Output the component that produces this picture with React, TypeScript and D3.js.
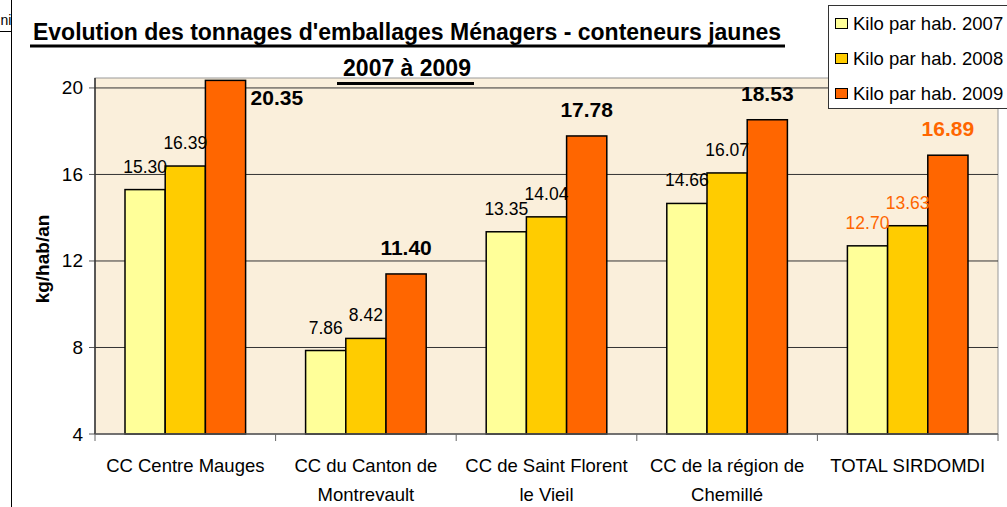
import * as d3 from "d3";
import React from "react";

// categories (x axis), line breaks as in the original sheet
const categories = [
  "CC Centre Mauges",
  "CC du Canton de\nMontrevault",
  "CC de Saint Florent\nle Vieil",
  "CC de la région de\nChemillé",
  "TOTAL SIRDOMDI",
];
const seriesNames = ["Kilo par hab. 2007", "Kilo par hab. 2008", "Kilo par hab. 2009"];
const kilo2007 = [15.3, 7.86, 13.35, 14.66, 12.7];
const kilo2008 = [16.39, 8.42, 14.04, 16.07, 13.63];
const kilo2009 = [20.35, 11.4, 17.78, 18.53, 16.89];
const yTicks = [4, 8, 12, 16, 20];

const colors = ["#ffff99", "#ffcc00", "#ff6600"];
const font = "'Liberation Sans', Arial, sans-serif";

export default function App() {
  const W = 1007, H = 507;
  const plot = {left: 95, right: 998, top: 78, bottom: 434};

  const series = [kilo2007, kilo2008, kilo2009];

  // scales
  const x = d3.scaleBand().domain(categories).range([plot.left, plot.right]);
  const xInner = d3.scaleBand<number>().domain([0, 1, 2]).range([30, x.bandwidth() - 30]);
  const y = d3.scaleLinear().domain([4, 20.46]).range([plot.bottom, plot.top]);

  return (
    <svg width={W} height={H} style={{position: "absolute", left: 0, top: 0, background: "#fff"}}
         fontFamily={font}>
      {/* spreadsheet cell border on the left */}
      <line x1={11.5} x2={11.5} y1={0} y2={H} stroke="#000" strokeWidth={1}/>
      <line x1={0} x2={11.5} y1={31.5} y2={31.5} stroke="#000" strokeWidth={1}/>
      <text x={0.5} y={25} fontSize={14} fill="#000">ni</text>

      {/* plot area */}
      <rect x={plot.left} y={plot.top} width={plot.right - plot.left} height={plot.bottom - plot.top}
            fill="#faefdb" stroke="#999" strokeWidth={1}/>

      {/* gridlines and y ticks */}
      {yTicks.map(t => (
        <g key={t}>
          {t > 4 && <line x1={plot.left} x2={plot.right} y1={y(t)} y2={y(t)} stroke="#333" strokeWidth={1}/>}
          <line x1={plot.left - 6} x2={plot.left} y1={y(t)} y2={y(t)} stroke="#555"/>
          <text x={plot.left - 12} y={y(t) + 6.5} textAnchor="end" fontSize={19} fill="#000">{t}</text>
        </g>
      ))}

      {/* bars */}
      {categories.map((c, ci) => (
        <g key={c} transform={`translate(${x(c)},0)`}>
          {series.map((vals, si) => (
            <rect key={si} x={xInner(si)} y={y(vals[ci])} width={xInner.bandwidth()}
                  height={y(4) - y(vals[ci])} fill={colors[si]} stroke="#000" strokeWidth={1.5}/>
          ))}
        </g>
      ))}

      {/* axes lines */}
      <line x1={plot.left} x2={plot.left} y1={plot.top} y2={plot.bottom} stroke="#333" strokeWidth={1.5}/>
      <line x1={plot.left} x2={plot.right} y1={plot.bottom} y2={plot.bottom} stroke="#555" strokeWidth={1.5}/>
      {d3.range(categories.length + 1).map(i => {
        const xx = plot.left + i * x.bandwidth();
        return <line key={i} x1={xx} x2={xx} y1={plot.bottom} y2={plot.bottom + 7} stroke="#666"/>;
      })}

      {/* data labels */}
      {categories.map((c, ci) => series.map((vals, si) => {
        const v = vals[ci];
        const bx = (x(c) as number) + (xInner(si) as number);
        const bw = xInner.bandwidth();
        const top = y(v);
        const bold = si === 2;
        const isTotal = ci === categories.length - 1;
        const fill = isTotal ? "#ff6600" : "#000";
        const size = bold ? 21 : 17.5;
        const overflow = top - 19 - 15 < plot.top;
        return (
          <text key={`${ci}-${si}`}
                x={overflow ? bx + bw + 5 : bx + bw / 2}
                y={overflow ? top + 25 : top - (bold ? 19 : 17)}
                textAnchor={overflow ? "start" : "middle"}
                fontSize={size} fontWeight={bold ? "bold" : "normal"} fill={fill}>
            {v.toFixed(2)}
          </text>
        );
      }))}

      {/* category labels */}
      {categories.map(c => (
        <text key={c} x={(x(c) as number) + x.bandwidth() / 2} y={472} textAnchor="middle"
              fontSize={18.5} fill="#000">
          {c.split("\n").map((line, i) => (
            <tspan key={i} x={(x(c) as number) + x.bandwidth() / 2} dy={i === 0 ? 0 : 28.5}>{line}</tspan>
          ))}
        </text>
      ))}

      {/* y axis title */}
      <text transform="translate(49,259) rotate(-90)" textAnchor="middle" fontSize={19}
            fontWeight="bold" fill="#000">kg/hab/an</text>

      {/* title */}
      <text x={407} y={40} textAnchor="middle" fontSize={23} fontWeight="bold" fill="#000">
        Evolution des tonnages d'emballages Ménagers - conteneurs jaunes
      </text>
      <line x1={30} x2={785} y1={46} y2={46} stroke="#000" strokeWidth={3}/>
      <text x={407} y={76} textAnchor="middle" fontSize={23} fontWeight="bold" fill="#000">2007 à 2009</text>
      <line x1={337} x2={474} y1={83.5} y2={83.5} stroke="#000" strokeWidth={3}/>

      {/* legend */}
      <rect x={828.5} y={5.5} width={190} height={103} fill="#fff" stroke="#333" strokeWidth={1}/>
      {seriesNames.map((n, i) => (
        <g key={n} transform={`translate(835,${18 + i * 35})`}>
          <rect x={0.5} y={0.5} width={12} height={10} fill={colors[i]} stroke="#000" strokeWidth={1}/>
          <text x={18} y={12} fontSize={18.5} fill="#000">{n}</text>
        </g>
      ))}
    </svg>
  );
}
